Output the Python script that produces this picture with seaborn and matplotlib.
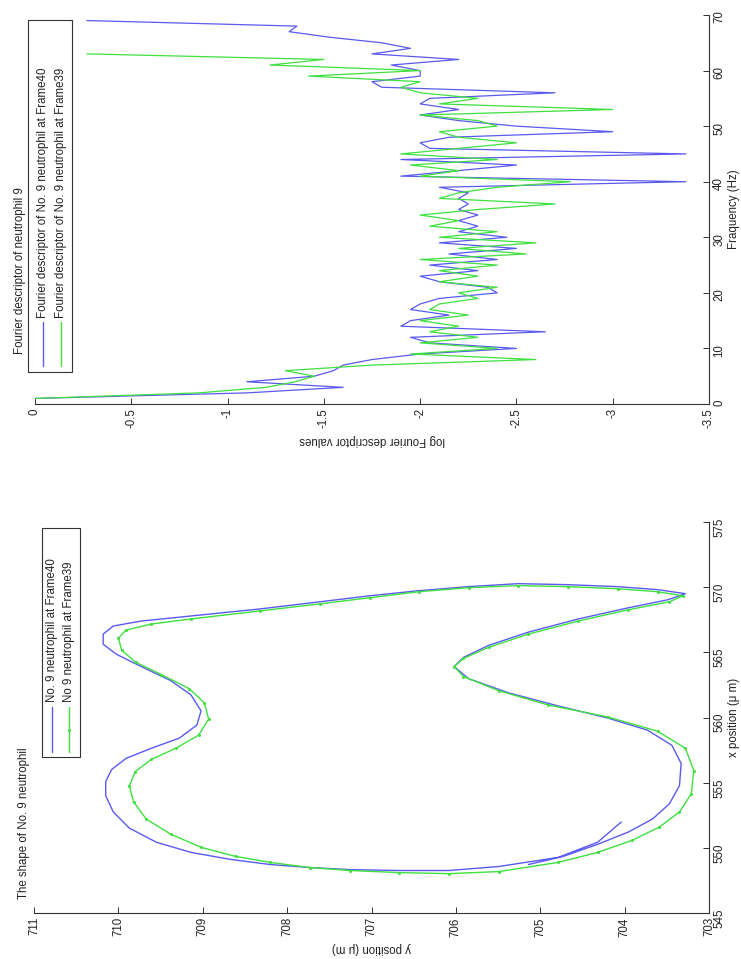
import numpy as np
import pandas as pd
import matplotlib
matplotlib.use("Agg")
import matplotlib.pyplot as plt
import seaborn as sns
from matplotlib.lines import Line2D
from matplotlib.patches import Rectangle

# ---------------- data ----------------
# Fourier descriptors (log values) per frequency
fd40_vals = [0, -1.1, -1.6, -1.1, -1.45, -1.55, -1.6, -1.75, -2.0, -2.5,
             -2.05, -1.95, -2.65, -1.9, -1.95, -2.15, -1.95, -2.0, -2.1, -2.4,
             -2.35, -2.1, -2.0, -2.3, -2.05, -2.4, -2.15, -2.5, -2.1, -2.45,
             -2.2, -2.3, -2.2, -2.3, -2.2, -2.25, -2.2, -2.25, -2.1, -3.38,
             -1.9, -2.2, -2.5, -1.9, -3.38, -2.05, -2.0, -2.15, -3.0, -2.5,
             -2.2, -2.0, -2.2, -2.0, -2.05, -2.7, -1.8, -1.75, -2.0, -2.0,
             -1.85, -2.2, -1.75, -1.95, -1.8, -1.53, -1.32, -1.36, -0.27]
fd39_vals = [0, -0.85, -1.2, -1.35, -1.45, -1.3, -1.75, -2.6, -1.95, -2.4,
             -2.0, -2.3, -2.05, -2.2, -2.0, -2.25, -2.05, -2.1, -2.3, -2.2,
             -2.4, -2.1, -2.3, -2.1, -2.4, -2.0, -2.55, -2.2, -2.6, -2.1,
             -2.4, -2.05, -2.2, -2.0, -2.3, -2.7, -2.1, -2.2, -2.4, -2.78,
             -2.0, -2.2, -1.95, -2.4, -1.9, -2.2, -2.5, -2.2, -2.1, -2.4,
             -2.3, -2.0, -3.0, -2.1, -2.3, -2.0, -1.9, -2.0, -1.42, -2.0,
             -1.22, -1.5, -0.27]
fd40_freq = np.arange(1, len(fd40_vals) + 1)
fd39_freq = np.arange(1, len(fd39_vals) + 1)

# Cell outlines (x position, y position in um)
f40_x = [551.98, 550.43, 549.26, 548.57, 548.26, 548.26, 548.33, 548.49, 548.72, 549.11,
         549.65, 550.43, 551.51, 552.75, 553.99, 555.08, 556.01, 556.86, 557.64, 558.41,
         559.42, 560.50, 561.74, 562.83, 563.91, 564.84, 565.62, 566.40, 567.02, 567.40,
         567.71, 568.33, 568.88, 569.34, 569.73, 570.04, 570.27, 570.19, 570.04, 569.81,
         569.50, 569.03, 568.41, 567.56, 566.55, 565.54, 564.61, 563.91, 562.98, 561.90,
         560.89, 559.96, 559.03, 557.87, 556.47, 554.77, 553.37, 552.21, 551.20, 550.27,
         549.34, 548.72]
f40_y = [704.04, 704.32, 704.79, 705.49, 706.08, 706.67, 707.26, 707.73, 708.20, 708.67,
         709.14, 709.55, 709.87, 710.06, 710.15, 710.15, 710.08, 709.91, 709.61, 709.28,
         709.07, 709.02, 709.14, 709.38, 709.73, 710.02, 710.18, 710.18, 710.06, 709.73,
         709.26, 708.32, 707.61, 707.02, 706.44, 705.85, 705.26, 704.67, 704.08, 703.61,
         703.28, 703.49, 703.96, 704.55, 705.14, 705.61, 705.91, 706.02, 705.85, 705.38,
         704.79, 704.20, 703.73, 703.44, 703.33, 703.35, 703.47, 703.67, 703.96, 704.32,
         704.73, 705.14]
f39_x = [549.65, 548.88, 548.18, 548.02, 548.10, 548.26, 548.49, 548.88, 549.34, 550.04,
         551.05, 552.21, 553.53, 554.77, 555.85, 556.78, 557.64, 558.64, 559.88, 561.12,
         562.21, 563.29, 564.22, 565.16, 566.09, 566.71, 567.17, 567.56, 568.18, 568.72,
         569.19, 569.65, 569.96, 570.12, 570.04, 569.88, 569.65, 569.34, 568.88, 568.26,
         567.40, 566.40, 565.39, 564.53, 563.91, 563.14, 562.05, 560.97, 560.04, 558.95,
         557.64, 555.93, 554.15, 552.75, 551.59, 550.58, 549.65]
f39_y = [704.32, 704.79, 705.49, 706.08, 706.67, 707.26, 707.73, 708.20, 708.61, 709.02,
         709.38, 709.67, 709.82, 709.87, 709.80, 709.61, 709.32, 709.05, 708.93, 708.98,
         709.16, 709.49, 709.79, 709.96, 710.00, 709.91, 709.61, 709.14, 708.32, 707.61,
         707.02, 706.44, 705.85, 705.26, 704.67, 704.08, 703.61, 703.31, 703.47, 703.96,
         704.55, 705.14, 705.61, 705.91, 706.02, 705.91, 705.49, 704.91, 704.20, 703.61,
         703.28, 703.18, 703.21, 703.35, 703.59, 703.91, 704.32]

val_ticks = [0, -0.5, -1, -1.5, -2, -2.5, -3, -3.5]
val_tick_labels = ["0", "-0.5", "-1", "-1.5", "-2", "-2.5", "-3", "-3.5"]
freq_ticks = [0, 10, 20, 30, 40, 50, 60, 70]
ypos_ticks = [703, 704, 705, 706, 707, 708, 709, 710, 711]
xpos_ticks = [545, 550, 555, 560, 565, 570, 575]

legend_fd = ["Fourier descriptor of No. 9 neutrophil at Frame40",
             "Fourier descriptor of No. 9 neutrophil at Frame39"]
legend_shape = ["No. 9 neutrophil at Frame40", "No 9 neutrophil at Frame39"]

# ---------------- style ----------------
sns.set_theme(style="white")
plt.rcParams["font.family"] = ["Liberation Sans", "DejaVu Sans"]
BLUE = "#5a5af0"
GREEN = "#3fe03f"
TXT = "#222222"
FS = 8.3

W, H = 741, 959
fig = plt.figure(figsize=(W / 100, H / 100), dpi=100)


def fr(l, t, r, b):
    return [l / W, 1 - b / H, (r - l) / W, (b - t) / H]


def style_axes(ax):
    for s in ("top", "left"):
        ax.spines[s].set_visible(False)
    for s in ("bottom", "right"):
        ax.spines[s].set_color("#333333")
        ax.spines[s].set_linewidth(0.8)
    ax.yaxis.tick_right()
    ax.tick_params(axis="x", direction="in", length=4, width=0.7, bottom=True,
                   labelrotation=90, labelsize=FS, pad=3, colors="#333333", labelcolor=TXT)
    ax.tick_params(axis="y", direction="in", length=4, width=0.7, right=True, left=False,
                   labelright=True, labelleft=False,
                   labelrotation=90, labelsize=FS, pad=3, colors="#333333", labelcolor=TXT)
    ax.yaxis.set_label_position("right")
    ax.set_facecolor("white")


# ---- top: Fourier descriptors ----
ax1 = fig.add_axes(fr(35, 15, 709, 404))
sns.lineplot(x=fd40_vals, y=fd40_freq, orient="y", estimator=None, color=BLUE,
             lw=0.9, ax=ax1)
sns.lineplot(x=fd39_vals, y=fd39_freq, orient="y", estimator=None, color=GREEN,
             lw=0.9, ax=ax1)
ax1.set_xlim(0, -3.5)
ax1.set_ylim(0, 70)
ax1.set_xticks(val_ticks)
ax1.set_xticklabels(val_tick_labels)
ax1.set_yticks(freq_ticks)
style_axes(ax1)
ax1.set_xlabel("log Fourier descriptor values", rotation=180, fontsize=FS, color=TXT, labelpad=4)
ax1.set_ylabel("Fraquency (Hz)", rotation=90, fontsize=FS, color=TXT, labelpad=2)

# ---- bottom: shapes ----
ax2 = fig.add_axes(fr(34, 522, 709, 913))
sns.lineplot(x=f40_y, y=f40_x, sort=False, estimator=None, color=BLUE, lw=1.0, ax=ax2)
sns.lineplot(x=f39_y, y=f39_x, sort=False, estimator=None, color=GREEN, lw=1.0,
             marker="o", markersize=2.2, markeredgewidth=0, ax=ax2)
ax2.set_xlim(711, 703)
ax2.set_ylim(545, 575)
ax2.set_xticks(ypos_ticks)
ax2.set_yticks(xpos_ticks)
style_axes(ax2)
ax2.set_xlabel("y position (\u03bc m)", rotation=180, fontsize=FS, color=TXT, labelpad=4)
ax2.set_ylabel("x position (\u03bc m)", rotation=90, fontsize=FS, color=TXT, labelpad=2)

# ---- titles ----
fig.text(20 / W, 1 - 187 / H, "Fourier descriptor of neutrophil 9", rotation=90,
         ha="center", va="top", fontsize=FS, color=TXT)
fig.text(24 / W, 1 - 747 / H, "The shape of No. 9 neutrophil", rotation=90,
         ha="center", va="top", fontsize=FS, color=TXT)


# ---- rotated legends ----
def legend_box(x0, y0, x1, y1, cols, labels, colors, markers, line_top, line_bot, text_bot):
    fig.add_artist(Rectangle((x0 / W, 1 - y1 / H), (x1 - x0) / W, (y1 - y0) / H,
                             transform=fig.transFigure, fc="white", ec="#333333", lw=0.8))
    for cx, lab, col, mk in zip(cols, labels, colors, markers):
        fig.add_artist(Line2D([cx / W, cx / W], [1 - line_bot / H, 1 - line_top / H],
                              transform=fig.transFigure, color=col, lw=1.0))
        if mk:
            fig.add_artist(Line2D([cx / W], [1 - (line_top + line_bot) / 2 / H],
                                  transform=fig.transFigure, color=col, marker="o",
                                  markersize=2.2, markeredgewidth=0, lw=0))
        fig.text(cx / W, 1 - text_bot / H, lab, rotation=90, ha="center", va="bottom",
                 fontsize=FS, color=TXT)


legend_box(28, 20, 72, 372, [43, 61], legend_fd, [BLUE, GREEN], [False, False],
           line_top=322, line_bot=366, text_bot=318)
legend_box(42, 528, 80, 757, [52, 69], legend_shape, [BLUE, GREEN], [False, True],
           line_top=707, line_bot=752, text_bot=702)

fig.savefig("out.png", dpi=100)
